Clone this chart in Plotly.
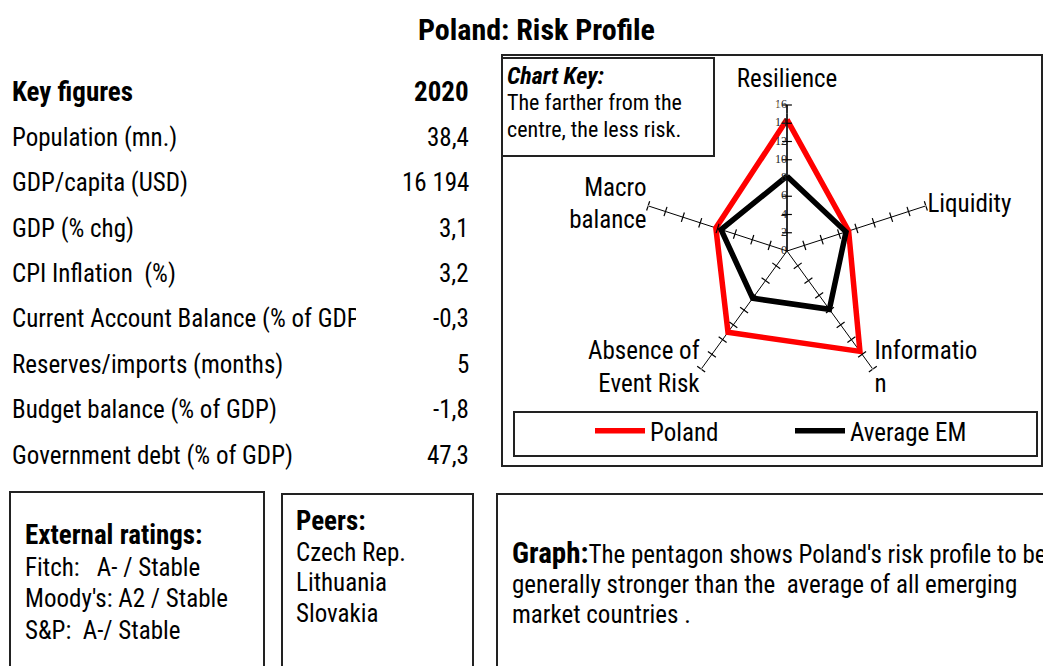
import plotly.graph_objects as go

W, H = 1043, 666
FONT = "Roboto Condensed, Liberation Sans Narrow, Arial Narrow, sans-serif"

# ---------------- data ----------------
title = "Poland: Risk Profile"
categories = ["Resilience", "Liquidity", "Informatio<br>n", "Absence of<br>Event Risk", "Macro<br>balance"]
poland = [14.4, 7.1, 13.6, 11.0, 8.2]
average_em = [8.2, 6.8, 7.9, 6.4, 7.6]
radial_ticks = [0, 2, 4, 6, 8, 10, 12, 14, 16]

key_header = ["Key figures", "2020"]
key_labels = ["Population (mn.)", "GDP/capita (USD)", "GDP (% chg)", "CPI Inflation  (%)",
              "Current Account Balance (% of GDP)", "Reserves/imports (months)",
              "Budget balance (% of GDP)", "Government debt (% of GDP)"]
key_values = ["38,4", "16 194", "3,1", "3,2", "-0,3", "5", "-1,8", "47,3"]

chart_key_title = "Chart Key:"
chart_key_text = ["The farther from the", "centre, the less risk."]
ratings_title = "External ratings:"
ratings = ["Fitch:\u00a0\u00a0 A- / Stable", "Moody's: A2 / Stable", "S&P:\u00a0 A-/ Stable"]
peers_title = "Peers:"
peers = ["Czech Rep.", "Lithuania", "Slovakia"]
graph_title = "Graph:"
graph_text = ["The pentagon shows Poland's risk profile to be",
              "generally stronger than the\u00a0 average of all emerging",
              "market countries ."]


def px(x):
    return x / W


def py(y):
    return 1 - y / H


REG, BOLD = 25, 27

fig = go.Figure()

closed = lambda v: list(v) + [v[0]]
fig.add_trace(go.Scatterpolar(r=closed(poland), theta=closed(categories), mode="lines",
                              name="Poland", line=dict(color="#ff0000", width=5.5),
                              hoverinfo="skip"))
fig.add_trace(go.Scatterpolar(r=closed(average_em), theta=closed(categories), mode="lines",
                              name="Average EM", line=dict(color="#000000", width=5.5),
                              hoverinfo="skip"))

# tick marks along every spoke
n = len(categories)
tr, tt, ta = [], [], []
for i, c in enumerate(categories):
    for t in radial_ticks[1:]:
        tr.append(t)
        tt.append(c)
        ta.append(360.0 / n * i)
fig.add_trace(go.Scatterpolar(r=tr, theta=tt, mode="markers", showlegend=False,
                              hoverinfo="skip", cliponaxis=False,
                              marker=dict(symbol="line-ew", size=7, angle=ta,
                                          line=dict(color="black", width=1.2))))

# radial tick labels along the first spoke
fig.add_trace(go.Scatterpolar(r=radial_ticks, theta=[categories[0]] * len(radial_ticks),
                              mode="text", text=[str(t) for t in radial_ticks],
                              textposition="middle left", showlegend=False, hoverinfo="skip",
                              cliponaxis=False,
                              textfont=dict(family="Liberation Serif, serif", size=12, color="#222")))

# category labels at the spoke ends (invisible markers set the label gap)
label_pos = ["top center", "middle right", "middle right", "middle left", "middle left"]
label_gap = [17, 1, 1, 1, 1]
fig.add_trace(go.Scatterpolar(r=[radial_ticks[-1]] * n, theta=categories, mode="markers+text",
                              text=categories, textposition=label_pos, showlegend=False,
                              hoverinfo="skip", cliponaxis=False,
                              marker=dict(size=label_gap, color="rgba(0,0,0,0)"),
                              textfont=dict(family=FONT, size=REG, color="black")))

cx, cy, R = 787, 251, 146
fig.update_layout(
    width=W, height=H, margin=dict(l=0, r=0, t=0, b=0),
    paper_bgcolor="white", plot_bgcolor="white",
    font=dict(family=FONT, color="black", size=REG),
    polar=dict(
        domain=dict(x=[px(cx - R), px(cx + R)], y=[py(cy + R), py(cy - R)]),
        bgcolor="rgba(0,0,0,0)",
        angularaxis=dict(direction="clockwise", rotation=90, showline=False,
                         showgrid=True, gridcolor="black", gridwidth=1.3, ticks="",
                         showticklabels=False),
        radialaxis=dict(range=[0, 16], tickvals=radial_ticks, showgrid=False,
                        showline=True, linecolor="black", linewidth=1.3, angle=90,
                        ticks="", showticklabels=False),
    ),
    showlegend=True,
    legend=dict(orientation="h", x=px(590), y=py(431), xanchor="left", yanchor="middle",
                bgcolor="rgba(0,0,0,0)", font=dict(family=FONT, size=REG),
                itemwidth=50, entrywidth=135, entrywidthmode="pixels"),
)

shapes = []
def box(x0, y0, x1, y1, w=2):
    shapes.append(dict(type="rect", xref="paper", yref="paper", x0=px(x0), x1=px(x1),
                       y0=py(y1), y1=py(y0), line=dict(color="#222", width=w),
                       fillcolor="rgba(0,0,0,0)", layer="below"))

box(502, 55, 1042, 466)
box(502, 58, 714, 156)
box(514, 412, 1037, 456)
box(10, 492, 264, 680)
box(282, 494, 473, 680)
box(497, 494, 1060, 680)
fig.update_layout(shapes=shapes)

ann = []
PAD = 3
def text(x, y, s, size=REG, anchor="left", bold=False, italic=False, width=None):
    if bold:
        s = "<b>" + s + "</b>"
    if italic:
        s = "<i>" + s + "</i>"
    if anchor == "left":
        x -= PAD
    elif anchor == "right":
        x += PAD
    d = dict(x=px(x), y=py(y), xref="paper", yref="paper", text=s, showarrow=False,
             xanchor=anchor, yanchor="middle", font=dict(family=FONT, size=size, color="black"),
             align=anchor if anchor != "center" else "center")
    if width:
        d["width"] = width
    ann.append(d)

text(536, 30, title, size=30, anchor="center", bold=True)

row_y0, row_dy = 92, 45.4
text(13, row_y0, key_header[0], size=BOLD, bold=True)
text(468, row_y0, key_header[1], size=BOLD, anchor="right", bold=True)
for i, (lab, val) in enumerate(zip(key_labels, key_values)):
    y = row_y0 + row_dy * (i + 1)
    text(13, y, lab, width=344)
    text(468, y, val, anchor="right")

text(508, 76, chart_key_title, size=24, bold=True, italic=True)
for i, s in enumerate(chart_key_text):
    text(508, 102 + 27 * i, s, size=22)

text(26, 535, ratings_title, size=BOLD, bold=True)
for i, s in enumerate(ratings):
    text(26, 567 + 31.5 * i, s)

text(297, 521, peers_title, size=BOLD, bold=True)
for i, s in enumerate(peers):
    text(297, 552 + 30.5 * i, s)

text(513, 553, "<b><span style='font-size:29px'>" + graph_title + "</span></b>" + graph_text[0])
for i, s in enumerate(graph_text[1:]):
    text(513, 584 + 30.5 * i, s)

fig.update_layout(annotations=ann)
fig.write_html("out.html", config={"displayModeBar": False},
               post_script="document.body.style.margin='0px';")
